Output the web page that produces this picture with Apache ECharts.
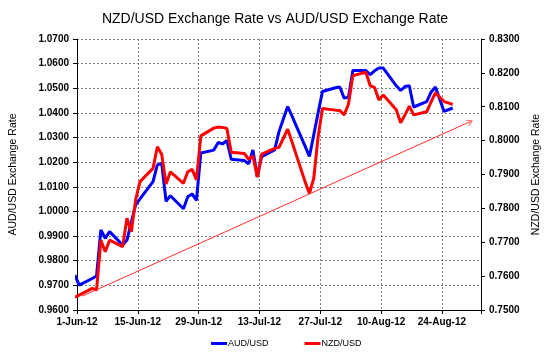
<!DOCTYPE html>
<html>
<head>
<meta charset="utf-8">
<script src="https://cdn.jsdelivr.net/npm/echarts@6/dist/echarts.min.js"></script>
<style>
html,body{margin:0;padding:0;background:#fff;}
#chart{width:550px;height:357px;}
</style>
</head>
<body>
<div id="chart"></div>
<script>
// Trading dates (points plotted at mid-day, as the source chart's date axis does)
var dates = [
  '2012-05-31','2012-06-01','2012-06-04','2012-06-05','2012-06-06','2012-06-07','2012-06-08',
  '2012-06-11','2012-06-12','2012-06-13','2012-06-14','2012-06-15',
  '2012-06-18','2012-06-19','2012-06-20','2012-06-21','2012-06-22',
  '2012-06-25','2012-06-26','2012-06-27','2012-06-28','2012-06-29',
  '2012-07-02','2012-07-03','2012-07-04','2012-07-05','2012-07-06',
  '2012-07-09','2012-07-10','2012-07-11','2012-07-12','2012-07-13',
  '2012-07-16','2012-07-17','2012-07-18','2012-07-19','2012-07-20',
  '2012-07-23','2012-07-24','2012-07-25','2012-07-26','2012-07-27',
  '2012-07-30','2012-07-31','2012-08-01','2012-08-02','2012-08-03',
  '2012-08-06','2012-08-07','2012-08-08','2012-08-09','2012-08-10',
  '2012-08-13','2012-08-14','2012-08-15','2012-08-16','2012-08-17',
  '2012-08-20','2012-08-21','2012-08-22','2012-08-24','2012-08-26'
];
var audUsd = [
  0.9742,0.9701,0.9728,0.9738,0.9925,0.9891,0.9918,
  0.9864,0.9884,0.9957,1.0027,1.0051,
  1.0121,1.0189,1.0195,1.0041,1.0064,
  1.0011,1.0060,1.0071,1.0045,1.0237,
  1.0249,1.0280,1.0274,1.0288,1.0212,
  1.0207,1.0193,1.0250,1.0140,1.0222,
  1.0250,1.0324,1.0375,1.0426,1.0387,
  1.0265,1.0223,1.0311,1.0400,1.0487,
  1.0502,1.0505,1.0460,1.0464,1.0572,
  1.0572,1.0555,1.0571,1.0582,1.0582,
  1.0510,1.0491,1.0507,1.0510,1.0424,
  1.0446,1.0484,1.0505,1.0406,1.0420
];
var nzdUsd = [
  0.7538,0.7544,0.7564,0.7559,0.7706,0.7672,0.7706,
  0.7687,0.7771,0.7731,0.7825,0.7879,
  0.7918,0.7982,0.7960,0.7872,0.7908,
  0.7874,0.7908,0.7915,0.7884,0.8014,
  0.8037,0.8040,0.8039,0.8036,0.7966,
  0.7962,0.7945,0.7955,0.7893,0.7960,
  0.7977,0.7980,0.8007,0.8034,0.7996,
  0.7879,0.7844,0.7889,0.8011,0.8095,
  0.8090,0.8089,0.8076,0.8108,0.8192,
  0.8202,0.8162,0.8157,0.8120,0.8135,
  0.8091,0.8053,0.8076,0.8102,0.8076,
  0.8085,0.8114,0.8141,0.8115,0.8107
];
// trend arrow end points: [day offset from 1-Jun-12, NZD/USD value]
var trendStart = [1.24, 0.7541];
var trendEnd = [90.5, 0.8056];

var leftTicks = {min: 0.96, max: 1.07, step: 0.01};
var rightTicks = {min: 0.75, max: 0.83, step: 0.01};
var xRange = {min: 0, max: 93, step: 14}; // days from 1-Jun-12

var DAY = 86400000;
var origin = Date.UTC(2012, 5, 1);
var months = ['Jan','Feb','Mar','Apr','May','Jun','Jul','Aug','Sep','Oct','Nov','Dec'];
function dayPos(s) {
  var p = s.split('-');
  return (Date.UTC(+p[0], +p[1] - 1, +p[2]) + DAY / 2 - origin) / DAY;
}
function dayLabel(v) {
  if (Math.abs(v % 14) > 1e-6) return '';
  var d = new Date(origin + v * DAY);
  return d.getUTCDate() + '-' + months[d.getUTCMonth()] + '-12';
}
var audData = dates.map(function (d, i) { return [dayPos(d), audUsd[i]]; });
var nzdData = dates.map(function (d, i) { return [dayPos(d), nzdUsd[i]]; });

var font = 'Arial, "Liberation Sans", sans-serif';
var chart = echarts.init(document.getElementById('chart'), null, {renderer: 'canvas'});
chart.setOption({
  animation: false,
  backgroundColor: '#ffffff',
  title: {
    text: 'NZD/USD Exchange Rate vs AUD/USD Exchange Rate',
    left: 'center', top: 7,
    textStyle: {fontFamily: font, fontSize: 14, fontWeight: 'normal', color: '#000'}
  },
  legend: {
    left: 206, top: 334,
    itemWidth: 16, itemHeight: 3, itemGap: 36,
    icon: 'rect',
    textStyle: {fontFamily: font, fontSize: 9, color: '#000', padding: [0, 0, 0, -4]},
    data: ['AUD/USD', 'NZD/USD']
  },
  grid: {left: 68, right: 62, top: 39, bottom: 47},
  xAxis: {
    type: 'value',
    min: xRange.min, max: xRange.max, interval: xRange.step,
    axisLine: {lineStyle: {color: '#000', width: 1}},
    axisTick: {show: true, length: 4, lineStyle: {color: '#000'}},
    axisLabel: {formatter: dayLabel, fontFamily: font, fontSize: 10, fontWeight: 'bold', color: '#000', margin: 7},
    splitLine: {show: true, lineStyle: {color: '#808080', type: [2, 2], width: 1}}
  },
  yAxis: [{
    type: 'value',
    min: leftTicks.min, max: leftTicks.max, interval: leftTicks.step,
    name: 'AUD/USD Exchange Rate', nameLocation: 'middle', nameRotate: 90, nameGap: 58,
    nameTextStyle: {fontFamily: font, fontSize: 10.5, color: '#000'},
    axisLine: {show: true, lineStyle: {color: '#000', width: 1}},
    axisTick: {show: true, length: 4, lineStyle: {color: '#000'}},
    axisLabel: {formatter: function (v) { return v.toFixed(4); }, fontFamily: font, fontSize: 10, fontWeight: 'bold', color: '#000', margin: 8},
    splitLine: {show: true, lineStyle: {color: '#808080', type: [2, 2], width: 1}}
  }, {
    type: 'value',
    position: 'right',
    min: rightTicks.min, max: rightTicks.max, interval: rightTicks.step,
    name: 'NZD/USD Exchange Rate', nameLocation: 'middle', nameRotate: 90, nameGap: 50,
    nameTextStyle: {fontFamily: font, fontSize: 10.5, color: '#000'},
    axisLine: {show: true, lineStyle: {color: '#000', width: 1}},
    axisTick: {show: true, length: 4, lineStyle: {color: '#000'}},
    axisLabel: {formatter: function (v) { return v.toFixed(4); }, fontFamily: font, fontSize: 10, fontWeight: 'bold', color: '#000', margin: 8},
    splitLine: {show: false}
  }],
  series: [{
    name: 'AUD/USD', type: 'line', yAxisIndex: 0,
    data: audData, showSymbol: false, symbol: 'none', clip: true,
    itemStyle: {color: '#0000FF'},
    lineStyle: {color: '#0000FF', width: 3}
  }, {
    name: 'NZD/USD', type: 'line', yAxisIndex: 1,
    data: nzdData, showSymbol: false, symbol: 'none', clip: true,
    itemStyle: {color: '#FF0000'},
    lineStyle: {color: '#FF0000', width: 3},
    markLine: {
      silent: true,
      symbol: ['none', 'path://M0,10 L5,0 L10,10 L8.6,10 L5,2.8 L1.4,10 Z'],
      symbolSize: [7, 6],
      label: {show: false},
      itemStyle: {color: '#FF3030'},
      lineStyle: {color: '#FF3030', width: 1, type: 'solid'},
      data: [[{coord: trendStart}, {coord: trendEnd}]]
    }
  }]
});
</script>
</body>
</html>
